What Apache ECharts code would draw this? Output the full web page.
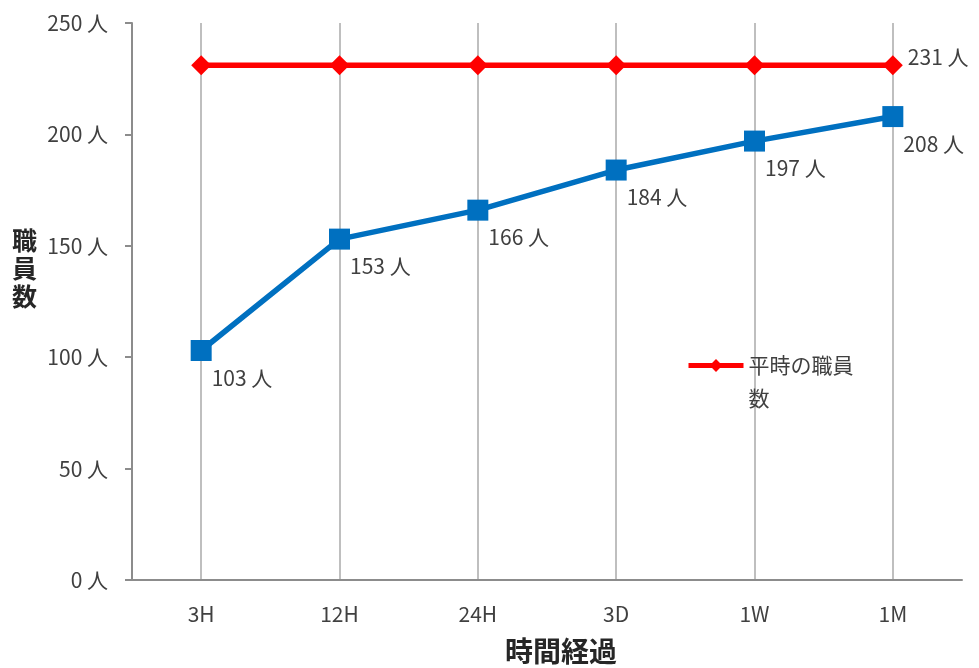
<!DOCTYPE html>
<html>
<head>
<meta charset="utf-8">
<script src="https://cdn.jsdelivr.net/npm/echarts@6/dist/echarts.min.js"></script>
<style>
html,body{margin:0;padding:0;background:#fff;}
#chart{width:979px;height:668px;}
</style>
</head>
<body>
<div id="chart"></div>
<script>
const categories = ['3H', '12H', '24H', '3D', '1W', '1M'];
const staffAfter = [103, 153, 166, 184, 197, 208];
const staffNormal = [231, 231, 231, 231, 231, 231];
const normalName = '平時の職員数';
const yTicks = [0, 50, 100, 150, 200, 250];

const FONT = '"Noto Sans CJK JP", "Noto Sans", sans-serif';
const chart = echarts.init(document.getElementById('chart'));
chart.setOption({
  animation: false,
  backgroundColor: '#ffffff',
  textStyle: { fontFamily: FONT },
  grid: { left: 132, right: 17, top: 23, bottom: 88, containLabel: false },
  legend: {
    data: [{ name: normalName }],
    left: 681, top: 311,
    itemWidth: 55, itemHeight: 16,
    itemGap: 7,
    lineStyle: { width: 5 },
    formatter: function () { return '\n平時の職員\n数'; },
    textStyle: { fontSize: 21, color: '#404040', lineHeight: 33, fontFamily: FONT }
  },
  xAxis: {
    type: 'category',
    data: categories,
    boundaryGap: true,
    axisLine: { show: true, lineStyle: { color: '#8c8c8c', width: 2 } },
    axisTick: { show: false, alignWithLabel: true },
    axisLabel: { fontSize: 21, color: '#404040', margin: 24, fontFamily: FONT },
    splitLine: { show: true, alignWithLabel: true, lineStyle: { color: '#bfbfbf', width: 2 } }
  },
  yAxis: {
    type: 'value',
    min: yTicks[0], max: yTicks[yTicks.length - 1], interval: 50,
    axisLine: { show: true, lineStyle: { color: '#8c8c8c', width: 2 } },
    axisTick: { show: true, length: 7, lineStyle: { color: '#8c8c8c', width: 2 } },
    axisLabel: { fontSize: 21, color: '#404040', margin: 24, fontFamily: FONT, formatter: v => v + ' 人' },
    splitLine: { show: false }
  },
  graphic: [
    {
      type: 'text', left: 12, top: 226, z: 10,
      style: { text: '職\n員\n数', fontSize: 25, fontWeight: 'bold', lineHeight: 28, fill: '#262626', fontFamily: FONT }
    },
    {
      type: 'text', left: 505, top: 637, z: 10,
      style: { text: '時間経過', fontSize: 28, fontWeight: 'bold', fill: '#262626', fontFamily: FONT }
    }
  ],
  series: [
    {
      name: normalName,
      type: 'line',
      data: staffNormal,
      z: 3,
      symbol: 'diamond', symbolSize: 20,
      lineStyle: { color: '#ff0000', width: 5.5 },
      itemStyle: { color: '#ff0000' },
      label: {
        show: true,
        position: 'right', distance: 5, offset: [0, -8],
        fontSize: 21, color: '#404040', fontFamily: FONT,
        formatter: p => (p.dataIndex === staffNormal.length - 1 ? p.value + ' 人' : '')
      }
    },
    {
      name: '職員数',
      type: 'line',
      data: staffAfter,
      z: 4,
      symbol: 'rect', symbolSize: 21,
      lineStyle: { color: '#0070c0', width: 5.5 },
      itemStyle: { color: '#0070c0' },
      label: {
        show: true,
        position: [21, 27], align: 'left', verticalAlign: 'top',
        fontSize: 21, color: '#404040', fontFamily: FONT,
        formatter: p => p.value + ' 人'
      }
    }
  ]
});
</script>
</body>
</html>
